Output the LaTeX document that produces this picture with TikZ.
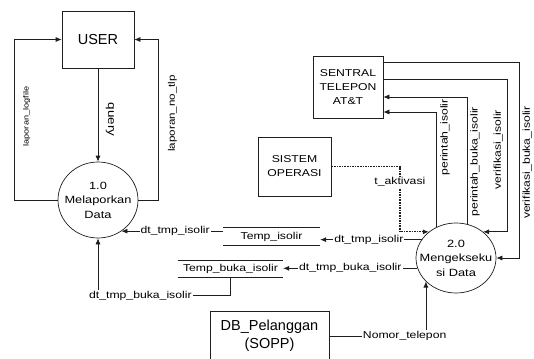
\documentclass[tikz,border=0pt]{standalone}
\usepackage{fontspec}
\setmainfont{Liberation Sans}
\newfontfamily\lebar[FakeStretch=1.22]{Liberation Sans}
\usetikzlibrary{arrows.meta,shapes.geometric,calc}
\definecolor{Garis}{HTML}{1E1E1E}

\begin{document}
\begin{tikzpicture}[x=1pt,y=-1pt,
        entitas/.style={draw=Garis,line width=.7pt,inner sep=0pt,align=center},
        proses/.style={ellipse,draw=Garis,line width=.7pt,inner sep=0pt,minimum width=80pt,
          label={[align=center,font=\lebar\fontsize{10.5}{14.5}\selectfont]center:#1}},
        simpan/.style={inner sep=0pt,font=\lebar\fontsize{10}{12}\selectfont},
        ket/.style={fill=white,inner sep=1pt,font=\lebar\fontsize{10}{12}\selectfont},
        titik/.style={line width=1.3pt,dash pattern=on 1.6pt off 1pt},
        panah/.style={-{Latex[length=6pt,width=5pt]},draw=Garis,line width=.7pt}]
        \useasboundingbox (0,0) rectangle (534,358);
        \node[entitas,minimum width=72pt,minimum height=57pt,font=\fontsize{14.5}{17}\selectfont] (user) at (98,39.5) {USER};
        \node[proses={1.0\\Melaporkan\\Data},minimum height=76pt] (p1) at (98,200) {};
        \node[entitas,minimum width=70pt,minimum height=62pt,font=\lebar\fontsize{10}{14}\selectfont] (sentral) at (348,87) {SENTRAL\\TELEPON\\AT\&T};
        \node[entitas,minimum width=73pt,minimum height=59pt,font=\lebar\fontsize{10}{14}\selectfont] (sistem) at (294.5,166.5) {SISTEM\\OPERASI};
        \node[proses={2.0\\Mengekseku\\si Data},minimum height=70pt] (p2) at (456,258) {};
        \node[simpan,minimum width=97pt,minimum height=17pt] (tisolir) at (271.5,236.5) {Temp\_isolir};
        \node[simpan,minimum width=105pt,minimum height=16.5pt] (tbuka) at (230.5,269) {Temp\_buka\_isolir};
        \node[entitas,minimum width=119pt,minimum height=50pt,font=\fontsize{14.5}{18}\selectfont] (db) at (269.5,336) {DB\_Pelanggan\\(SOPP)};
        \draw[draw=Garis,line width=.7pt] (tisolir.north west) -- (tisolir.north east) (tisolir.south west) -- (tisolir.south east)
          (tbuka.north west) -- (tbuka.north east) (tbuka.south west) -- (tbuka.south east);
        % alur proses 1.0
        \draw[panah] (user) -- node[ket,pos=.55,xshift=12pt,rotate=-90,font=\lebar\fontsize{11}{13}\selectfont]{query} (p1);
        \draw[panah] (p1.west) -- ++(-43,0) |- node[ket,pos=.26,xshift=12pt,rotate=90,font=\lebar\fontsize{7.5}{9}\selectfont]{laporan\_logfile} (user.west);
        \draw[panah] (p1.east) -- ++(20,0) |- node[ket,pos=.27,xshift=14pt,rotate=90,font=\lebar\fontsize{9.5}{11}\selectfont]{laporan\_no\_tlp} (user.east);
        \draw[panah] (p1.307 -| tisolir.west) -- node[ket,pos=.47]{dt\_tmp\_isolir} (p1.307);
        \draw[panah] (tbuka.south) -- ++(0,18) -| node[ket,pos=.34]{dt\_tmp\_buka\_isolir} (p1.south);
        % alur proses 2.0
        \draw[panah] ([yshift=-7pt]sentral.north east) -| node[ket,pos=.756,xshift=8pt,rotate=90]{verifikasi\_buka\_isolir} ([xshift=23pt]p2.east) -- (p2.east);
        \draw[panah] ([yshift=-24pt]sentral.north east) -| node[ket,pos=.73,xshift=-9pt,rotate=90]{verifikasi\_isolir} ($(p2.44)+(24,0)$) -- (p2.44);
        \draw[panah] (p2.72) |- node[ket,pos=.245,xshift=8pt,rotate=90]{perintah\_buka\_isolir} ([yshift=-10pt]sentral.east);
        \draw[panah] (p2.123) |- node[ket,pos=.39,xshift=9pt,rotate=90]{perintah\_isolir} ([yshift=-25pt]sentral.east);
        \draw[panah,titik] (sistem.east) -| node[ket,pos=.62]{t\_aktivasi} ($(p2.136)+(-29,0)$) -- (p2.136);
        \draw[panah] (p2.152) -- node[ket,pos=.52]{dt\_tmp\_isolir} (p2.152 -| tisolir.east);
        \draw[panah] (p2.195) -- node[ket,pos=.5]{dt\_tmp\_buka\_isolir} (p2.195 -| tbuka.east);
        \draw[panah] (db.east) -| node[ket,pos=.39]{Nomor\_telepon} (p2.218);
\end{tikzpicture}
\end{document}
